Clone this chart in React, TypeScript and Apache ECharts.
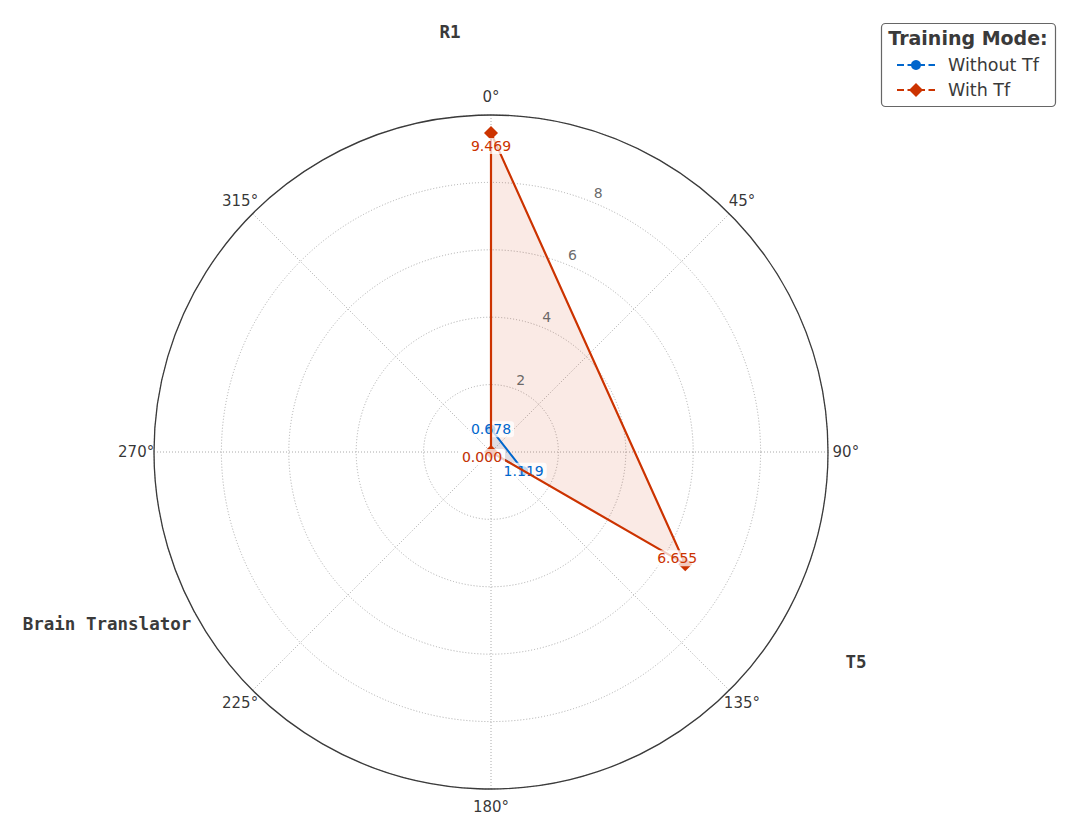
import React, { useEffect, useRef } from "react";
import * as echarts from "echarts";

const categories = ["R1", "T5", "Brain Translator"];
const categoryAngles = [0, 120, 240];
const withoutTf = [0.678, 1.119, 0.0];
const withTf = [9.469, 6.655, 0.0];
const radialTicks = [2, 4, 6, 8];
const angleTicks = [0, 45, 90, 135, 180, 225, 270, 315];

const BLUE = "#0066CC";
const RED = "#CC3300";
const FONT = "DejaVu Sans";
const R_MAX = 10;
const ANGLE_LABEL_R = 10.53;

const labelBase = {
  show: true,
  position: "inside" as const,
  fontSize: 14,
  fontFamily: FONT,
  backgroundColor: "rgba(255,255,255,0.75)",
  padding: [1, 3],
  borderRadius: 3,
};

function seriesData(values: number[], offsets: number[][]) {
  const items: any[] = values.map((v, i) => ({
    value: [v, categoryAngles[i]],
    label: { offset: offsets[i] },
  }));
  items.push({
    value: [values[0], 360],
    symbol: "none",
    label: { show: false },
  });
  return items;
}

function polygonSeries(values: number[], fill: string) {
  return {
    type: "custom",
    coordinateSystem: "polar",
    silent: true,
    z: 1,
    data: [[0, 0]],
    renderItem: (params: any, api: any) => {
      const pts = values.map((v, i) => api.coord([v, categoryAngles[i]]));
      return {
        type: "polygon",
        shape: { points: pts },
        style: { fill, stroke: "none" },
      };
    },
  };
}

export default function App() {
  const ref = useRef<HTMLDivElement>(null);
  useEffect(() => {
    if (!ref.current) return;
    const chart = echarts.init(ref.current, undefined, { renderer: "svg" });
    const catLabelPos = [
      [450, 32],
      [856, 662],
      [107, 624],
    ];
    const option: any = {
      animation: false,
      backgroundColor: "#ffffff",
      polar: { center: [491, 452], radius: 337 },
      angleAxis: {
        type: "value",
        min: 0,
        max: 360,
        interval: 45,
        startAngle: 90,
        clockwise: true,
        axisLine: { show: true, lineStyle: { color: "#3a3a3a", width: 1.3 } },
        axisTick: { show: false },
        axisLabel: { show: false },
        splitLine: {
          show: true,
          lineStyle: { color: "#aaaaaa", type: [1, 2], width: 1 },
        },
      },
      radiusAxis: {
        type: "value",
        min: 0,
        max: R_MAX,
        interval: 2,
        axisLine: { show: false },
        axisTick: { show: false },
        axisLabel: { show: false },
        splitLine: {
          show: true,
          lineStyle: { color: "#aaaaaa", type: [1, 2], width: 1 },
        },
      },
      series: [
        polygonSeries(withTf, "rgba(204,51,0,0.10)"),
        polygonSeries(withoutTf, "rgba(0,102,204,0.10)"),
        {
          type: "scatter",
          coordinateSystem: "polar",
          symbolSize: 0,
          silent: true,
          clip: false,
          data: angleTicks.map((a) => [ANGLE_LABEL_R, a]),
          label: {
            show: true,
            position: "inside",
            color: "#000000",
            fontSize: 15,
            fontFamily: FONT,
            formatter: (p: any) => p.value[1] + "°",
          },
        },
        {
          type: "scatter",
          coordinateSystem: "polar",
          symbolSize: 0,
          silent: true,
          data: radialTicks.map((r) => [r, 22.5]),
          label: {
            show: true,
            position: "inside",
            offset: [4, -10],
            color: "#444444",
            fontSize: 14,
            fontFamily: FONT,
            formatter: (p: any) => String(p.value[0]),
          },
        },
        {
          name: "Without Tf",
          type: "line",
          coordinateSystem: "polar",
          z: 3,
          symbol: "circle",
          symbolSize: 9,
          itemStyle: { color: BLUE },
          lineStyle: { color: BLUE, width: 2 },
          label: {
            ...labelBase,
            color: BLUE,
            formatter: (p: any) => p.value[0].toFixed(3),
          },
          data: seriesData(withoutTf, [
            [0, 0],
            [0, 0],
            [-9, 5],
          ]),
        },
        {
          name: "With Tf",
          type: "line",
          coordinateSystem: "polar",
          z: 4,
          symbol: "diamond",
          symbolSize: 14,
          itemStyle: { color: RED },
          lineStyle: { color: RED, width: 2.2 },
          label: {
            ...labelBase,
            color: RED,
            formatter: (p: any) => p.value[0].toFixed(3),
          },
          data: seriesData(withTf, [
            [0, 13],
            [-8, -6],
            [-9, 5],
          ]),
        },
      ],
      graphic: [
        ...categories.map((c, i) => ({
          type: "text",
          x: catLabelPos[i][0],
          y: catLabelPos[i][1],
          z: 100,
          style: {
            text: c,
            fill: "#3a3a3a",
            font: "bold 17.5px 'DejaVu Sans Mono'",
            align: "center",
            verticalAlign: "middle",
            backgroundColor: "#ffffff",
            padding: [2, 3],
          },
        })),
        {
          type: "rect",
          z: 100,
          shape: { x: 881.5, y: 23.5, width: 174, height: 83, r: 4 },
          style: { fill: "#ffffff", stroke: "#666666", lineWidth: 1.2 },
        },
        {
          type: "text",
          z: 101,
          x: 968,
          y: 38,
          style: {
            text: "Training Mode:",
            font: `bold 19px '${FONT}'`,
            fill: "#3a3a3a",
            align: "center",
            verticalAlign: "middle",
          },
        },
        ...[
          { y: 65, color: BLUE, name: "Without Tf", sym: "circle" },
          { y: 90, color: RED, name: "With Tf", sym: "diamond" },
        ].flatMap((it) => [
          {
            type: "line",
            z: 101,
            shape: { x1: 897, y1: it.y, x2: 935, y2: it.y },
            style: { stroke: it.color, lineWidth: 2.2, lineDash: [7, 3.5] },
          },
          it.sym === "circle"
            ? {
                type: "circle",
                z: 102,
                shape: { cx: 916, cy: it.y, r: 5 },
                style: { fill: it.color },
              }
            : {
                type: "polygon",
                z: 102,
                shape: {
                  points: [
                    [916, it.y - 7],
                    [923, it.y],
                    [916, it.y + 7],
                    [909, it.y],
                  ],
                },
                style: { fill: it.color },
              },
          {
            type: "text",
            z: 101,
            x: 948,
            y: it.y,
            style: {
              text: it.name,
              font: `17.5px '${FONT}'`,
              fill: "#3a3a3a",
              verticalAlign: "middle",
            },
          },
        ]),
      ],
    };
    chart.setOption(option);
    return () => chart.dispose();
  }, []);
  return (
    <div
      ref={ref}
      style={{ position: "absolute", left: 0, top: 0, width: 1079, height: 837 }}
    />
  );
}
